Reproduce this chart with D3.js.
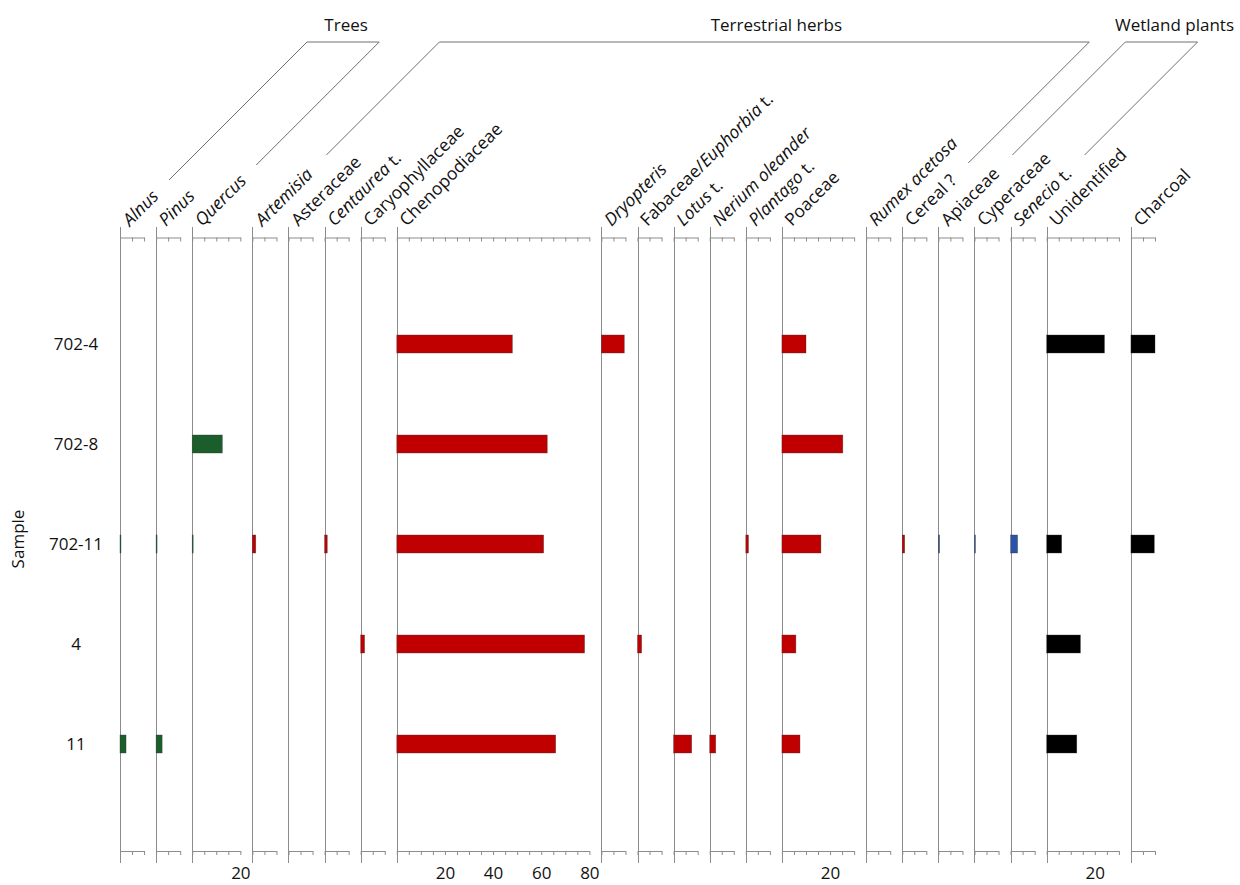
<!DOCTYPE html>
<html>
<head>
<meta charset="utf-8">
<script src="https://cdn.jsdelivr.net/npm/d3@7"></script>
<style>
  html, body { margin: 0; padding: 0; background: #fff; }
  svg { display: block; font-family: "Open Sans", "Noto Sans", sans-serif; }
</style>
</head>
<body>
<svg id="chart" width="1240" height="885"></svg>
<script>
// Samples, top to bottom
const samples = ["702-4", "702-8", "702-11", "4", "11"];

// Taxa (left to right); *text* is set in italics
const taxa = [
  "*Alnus*", "*Pinus*", "*Quercus*",
  "*Artemisia*", "Asteraceae", "*Centaurea* t.", "Caryophyllaceae", "Chenopodiaceae",
  "*Dryopteris*", "Fabaceae/*Euphorbia* t.", "*Lotus* t.", "*Nerium oleander*", "*Plantago* t.",
  "Poaceae", "*Rumex acetosa*", "Cereal ?",
  "Apiaceae", "Cyperaceae", "*Senecio* t.",
  "Unidentified", "Charcoal"
];

// Ecological group of each taxon
const taxonGroup = [
  "tree", "tree", "tree",
  "herb", "herb", "herb", "herb", "herb",
  "herb", "herb", "herb", "herb", "herb",
  "herb", "herb", "herb",
  "wet", "wet", "wet",
  "other", "other"
];

// Axis length of each taxon panel (%)
const axisMax = [10, 10, 20, 10, 10, 10, 10, 80, 10, 10, 10, 10, 10, 30, 10, 10, 10, 10, 10, 30, 10];

// Percentages per sample, in taxa order
const values702_4  = [0, 0, 0, 0, 0, 0, 0, 48, 9.5, 0, 0, 0, 0, 10, 0, 0, 0, 0, 0, 24, 10];
const values702_8  = [0, 0, 12.5, 0, 0, 0, 0, 62.5, 0, 0, 0, 0, 0, 25.3, 0, 0, 0, 0, 0, 0, 0];
const values702_11 = [0.4, 0.4, 0.4, 1.4, 0, 1.1, 0, 61, 0, 0, 0, 0, 1.1, 16.2, 0, 1, 0.5, 0.4, 2.9, 6.2, 9.7];
const values4      = [0, 0, 0, 0, 0, 0, 1.6, 78, 0, 1.7, 0, 0, 0, 5.8, 0, 0, 0, 0, 0, 14, 0];
const values11     = [2.5, 2.5, 0, 0, 0, 0, 0, 66, 0, 0, 7.5, 2.5, 0, 7.5, 0, 0, 0, 0, 0, 12.5, 0];
const sampleValues = [values702_4, values702_8, values702_11, values4, values11];

// Group headings and the first/last taxon they span
const groupNames = ["Trees", "Terrestrial herbs", "Wetland plants"];
const groupFirst = [0, 3, 16];
const groupLast  = [2, 15, 18];

const groupColor = { tree: "#1b5e2b", herb: "#c00000", wet: "#2b53a7", other: "#000000" };

// ---- layout ----
const gapUnits = 5;
const plotLeft = 120, plotRight = 1155;
const lineTop = 227, lineBottom = 863;
const axisTopY = 237.5, axisBottomY = 851;
const labelBaseY = 227;
const bracketY = 42;
const bracketEnds = [[180, 165], [155, 163], [155, 155]];
const groupLabelDx = [3, 12, 13];
const fontSize = 17;

const svg = d3.select("#chart");

// cumulative offsets of the panels in percent units
const offsets = [];
let acc = 0;
axisMax.forEach((m, i) => { offsets.push(acc); acc += m + (i < axisMax.length - 1 ? gapUnits : 0); });
const totalUnits = acc;

const xAll = d3.scaleLinear().domain([0, totalUnits]).range([plotLeft, plotRight]);
const y = d3.scalePoint().domain(samples).range([344, 744]);
const barH = 18;

const panelX = i => xAll(offsets[i]);
const panelScale = i => d3.scaleLinear().domain([0, axisMax[i]]).range([xAll(offsets[i]), xAll(offsets[i] + axisMax[i])]);

// panel lines
svg.append("g").selectAll("line").data(taxa).join("line")
  .attr("x1", (d, i) => Math.round(panelX(i)) + 0.5)
  .attr("x2", (d, i) => Math.round(panelX(i)) + 0.5)
  .attr("y1", lineTop).attr("y2", lineBottom)
  .attr("stroke", "#8c8c8c").attr("stroke-width", 1);

// axes at top and bottom of every panel
taxa.forEach((t, i) => {
  const sc = panelScale(i);
  const ticks = d3.range(0, axisMax[i] + 0.001, 5);
  const top = d3.axisBottom(sc).tickValues(ticks).tickSize(4).tickSizeOuter(0).tickFormat("");
  const bottom = d3.axisBottom(sc).tickValues(ticks).tickSize(4).tickSizeOuter(0).tickPadding(12)
    .tickFormat(d => (d > 0 && d % 20 === 0) ? d : "");
  [[top, axisTopY], [bottom, axisBottomY]].forEach(([ax, yy]) => {
    const g = svg.append("g").attr("transform", `translate(0,${yy})`).call(ax);
    g.select(".domain").attr("stroke", "#8c8c8c");
    g.selectAll(".tick line").attr("stroke", "#8c8c8c");
    g.selectAll(".tick text").attr("font-size", fontSize).attr("fill", "#111")
      .attr("font-family", "'Open Sans', sans-serif");
  });
});

// bars
const bars = [];
sampleValues.forEach((vals, s) => vals.forEach((v, i) => { if (v > 0) bars.push({ s: samples[s], i, v }); }));
svg.append("g").selectAll("rect").data(bars).join("rect")
  .attr("x", d => panelX(d.i))
  .attr("y", d => y(d.s) - barH / 2)
  .attr("width", d => panelScale(d.i)(d.v) - panelX(d.i))
  .attr("height", barH)
  .attr("fill", d => groupColor[taxonGroup[d.i]])
  .attr("stroke", "#333").attr("stroke-width", 0.6).attr("stroke-opacity", 0.6);

// taxon labels, rotated
function richText(sel, str) {
  str.split(/(\*[^*]+\*)/).filter(p => p.length).forEach(p => {
    const it = p.startsWith("*");
    sel.append("tspan").attr("font-style", it ? "italic" : "normal").text(it ? p.slice(1, -1) : p);
  });
}
taxa.forEach((t, i) => {
  const txt = svg.append("text")
    .attr("transform", `translate(${panelX(i) + 10},${labelBaseY}) rotate(-45)`)
    .attr("font-size", 17.5).attr("fill", "#111");
  richText(txt, t);
});

// group brackets
groupNames.forEach((name, g) => {
  const xl = panelX(groupFirst[g]) + 2;
  const xr = panelX(groupLast[g]) + 2;
  const [eL, eR] = bracketEnds[g];
  const topL = xl + (labelBaseY - bracketY);
  const topR = xr + (labelBaseY - bracketY);
  const pts = [
    [xl + (labelBaseY - eL), eL], [topL, bracketY], [topR, bracketY], [xr + (labelBaseY - eR), eR]
  ];
  svg.append("path").attr("d", d3.line()(pts)).attr("fill", "none")
    .attr("stroke", "#707070").attr("stroke-width", 1);
  svg.append("text").attr("x", (topL + topR) / 2 + groupLabelDx[g]).attr("y", 31)
    .attr("text-anchor", "middle").attr("font-size", fontSize).attr("fill", "#111").text(name);
});

// sample labels
svg.append("g").selectAll("text").data(samples).join("text")
  .attr("x", 76).attr("y", d => y(d)).attr("dy", "0.35em")
  .attr("text-anchor", "middle").attr("font-size", fontSize).attr("fill", "#111").text(d => d);

svg.append("text").attr("transform", "translate(24,539) rotate(-90)")
  .attr("text-anchor", "middle").attr("font-size", fontSize).attr("fill", "#111").text("Sample");
</script>
</body>
</html>
